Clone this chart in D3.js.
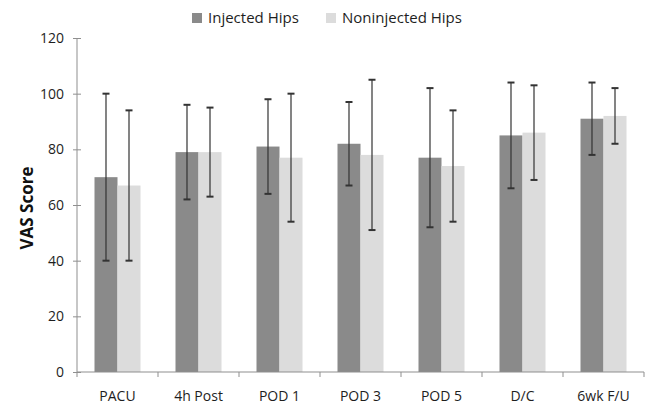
<!DOCTYPE html>
<html>
<head>
<meta charset="utf-8">
<script src="https://cdn.jsdelivr.net/npm/d3@7"></script>
<style>
  body { margin: 0; background: #fff; }
  svg { display: block; font-family: 'Open Sans', sans-serif; }
</style>
</head>
<body>
<div id="chart"></div>
<script>
// VAS score by time point, mean with error range
const CATEGORIES = ['PACU', '4h Post', 'POD 1', 'POD 3', 'POD 5', 'D/C', '6wk F/U'];
const SERIES = ['Injected Hips', 'Noninjected Hips'];
const INJECTED = [70, 79, 81, 82, 77, 85, 91];
const INJECTED_LOW = [40, 62, 64, 67, 52, 66, 78];
const INJECTED_HIGH = [100, 96, 98, 97, 102, 104, 104];
const NONINJECTED = [67, 79, 77, 78, 74, 86, 92];
const NONINJECTED_LOW = [40, 63, 54, 51, 54, 69, 82];
const NONINJECTED_HIGH = [94, 95, 100, 105, 94, 103, 102];
const Y_TICKS = [0, 20, 40, 60, 80, 100, 120];

const COLORS = { 'Injected Hips': '#8a8a8a', 'Noninjected Hips': '#dcdcdc' };
const AXIS_COLOR = '#8f8f8f';
const TEXT_COLOR = '#1e1e1e';

const width = 647;
const height = 406;
const plot = { left: 77, right: 644, top: 38, bottom: 372 };

const rows = CATEGORIES.map((c, i) => ({
  cat: c,
  vals: [
    { s: SERIES[0], v: INJECTED[i], lo: INJECTED_LOW[i], hi: INJECTED_HIGH[i] },
    { s: SERIES[1], v: NONINJECTED[i], lo: NONINJECTED_LOW[i], hi: NONINJECTED_HIGH[i] },
  ],
}));

const svg = d3.select('#chart').append('svg').attr('width', width).attr('height', height);

const x = d3.scaleBand().domain(CATEGORIES).range([plot.left, plot.right]).padding(0);
const xSub = d3.scaleBand().domain(SERIES).range([x.bandwidth() * 0.216, x.bandwidth() * 0.784]).padding(0);
const y = d3.scaleLinear().domain([0, 120]).range([plot.bottom, plot.top]);

// y axis
const yAxisG = svg.append('g').attr('transform', `translate(${plot.left},0)`);
yAxisG.call(d3.axisLeft(y).tickValues(Y_TICKS).tickSize(4).tickPadding(9));
yAxisG.select('.domain').attr('stroke', AXIS_COLOR).attr('d', `M0,${plot.top}V${plot.bottom}`);
yAxisG.selectAll('.tick line').attr('stroke', AXIS_COLOR).attr('x1', 4).attr('x2', -4);
yAxisG.selectAll('.tick text')
  .attr('fill', TEXT_COLOR)
  .attr('font-size', '14px')
  .attr('font-family', "'Open Sans', sans-serif");

// bars
const groups = svg.append('g').selectAll('g').data(rows).join('g')
  .attr('transform', d => `translate(${x(d.cat)},0)`);

groups.selectAll('rect').data(d => d.vals).join('rect')
  .attr('x', d => xSub(d.s))
  .attr('width', xSub.bandwidth())
  .attr('y', d => y(d.v))
  .attr('height', d => y(0) - y(d.v))
  .attr('fill', d => COLORS[d.s]);

// error bars
const err = groups.selectAll('g.err').data(d => d.vals).join('g').attr('class', 'err')
  .attr('transform', d => `translate(${xSub(d.s) + xSub.bandwidth() / 2},0)`)
  .attr('stroke', '#333')
  .attr('stroke-width', 1.2);
err.append('line').attr('y1', d => y(d.lo)).attr('y2', d => y(d.hi));
err.append('line').attr('x1', -3.5).attr('x2', 3.5).attr('y1', d => y(d.hi)).attr('y2', d => y(d.hi)).attr('stroke-width', 2);
err.append('line').attr('x1', -3.5).attr('x2', 3.5).attr('y1', d => y(d.lo)).attr('y2', d => y(d.lo)).attr('stroke-width', 2);

// x axis: labels at band centres, ticks at band boundaries
const xAxisG = svg.append('g').attr('transform', `translate(0,${plot.bottom})`);
xAxisG.call(d3.axisBottom(x).tickSize(0).tickPadding(19));
xAxisG.select('.domain').attr('stroke', AXIS_COLOR).attr('d', `M${plot.left},0H${plot.right}`);
xAxisG.selectAll('.tick text')
  .attr('fill', TEXT_COLOR)
  .attr('font-size', '14px')
  .attr('font-family', "'Open Sans', sans-serif");
xAxisG.selectAll('line.bound')
  .data(CATEGORIES.map(c => x(c)).concat([plot.right]))
  .join('line')
  .attr('class', 'bound')
  .attr('x1', d => d).attr('x2', d => d)
  .attr('y1', 0).attr('y2', 5)
  .attr('stroke', AXIS_COLOR);

// y axis title
svg.append('text')
  .attr('transform', `translate(33,${(plot.top + plot.bottom) / 2 + 3}) rotate(-90)`)
  .attr('text-anchor', 'middle')
  .attr('font-size', '17px')
  .attr('font-weight', 'bold')
  .attr('fill', '#111')
  .text('VAS Score');

// legend
const LEGEND_X = [192, 326];
const legend = svg.append('g').selectAll('g').data(SERIES).join('g')
  .attr('transform', (d, i) => `translate(${LEGEND_X[i]},13)`);
legend.append('rect').attr('width', 10).attr('height', 10).attr('fill', d => COLORS[d]);
legend.append('text')
  .attr('x', 16).attr('y', 10)
  .attr('font-size', '15px')
  .attr('fill', TEXT_COLOR)
  .text(d => d);
</script>
</body>
</html>
